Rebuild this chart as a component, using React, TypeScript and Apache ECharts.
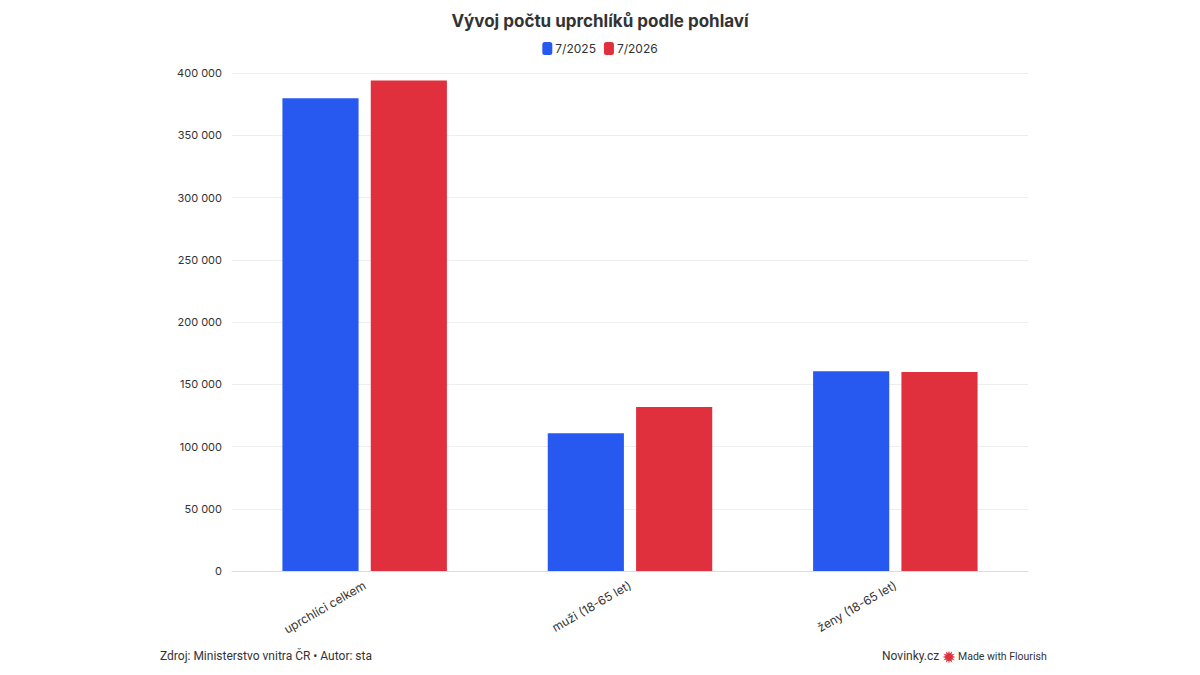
import React, { useEffect, useRef } from "react";
import * as echarts from "echarts";

const categories = ["uprchlíci celkem", "muži (18-65 let)", "ženy (18-65 let)"];
const seriesNames = ["7/2025", "7/2026"];
const values2025 = [379800, 110600, 160400];
const values2026 = [393900, 131800, 159900];
const colors = ["#2759F0", "#E0303D"];

const FONT = "Inter, 'Noto Sans', sans-serif";
const FOOT_FONT = "Roboto, 'Noto Sans', sans-serif";

function fmt(v: number): string {
  return String(v).replace(/\B(?=(\d{3})+(?!\d))/g, " ");
}

export default function App() {
  const ref = useRef<HTMLDivElement>(null);
  useEffect(() => {
    if (!ref.current) return;
    const chart = echarts.init(ref.current, null, { renderer: "svg" });
    const star: number[][] = [];
    for (let i = 0; i < 24; i++) {
      const a = (Math.PI * 2 * i) / 24;
      const r = i % 2 === 0 ? 6.5 : 3.5;
      star.push([Math.cos(a) * r, Math.sin(a) * r]);
    }
    chart.setOption({
      animation: false,
      backgroundColor: "#ffffff",
      textStyle: { fontFamily: FONT },
      title: {
        text: "Vývoj počtu uprchlíků podle pohlaví",
        left: "center",
        top: 7,
        textStyle: { fontSize: 17, fontWeight: "bold", color: "#333333", fontFamily: FONT },
      },
      legend: {
        top: 37,
        left: "center",
        itemWidth: 10,
        itemHeight: 13,
        itemGap: 8,
        icon: "roundRect",
        textStyle: { fontSize: 12, color: "#333333", fontFamily: FONT, padding: [0, 0, 0, -2] },
        data: seriesNames,
      },
      grid: { left: 232, right: 172, top: 73, bottom: 104, containLabel: false },
      xAxis: {
        type: "category",
        data: categories,
        axisTick: { show: false },
        axisLine: { lineStyle: { color: "#dddddd" } },
        axisLabel: {
          rotate: 30,
          color: "#333333",
          fontSize: 12,
          margin: 13,
          fontFamily: FONT,
        },
      },
      yAxis: {
        type: "value",
        min: 0,
        max: 400000,
        interval: 50000,
        axisLine: { show: false },
        axisTick: { show: false },
        splitLine: { lineStyle: { color: "#eeeeee" } },
        axisLabel: {
          color: "#333333",
          fontSize: 11,
          margin: 10,
          fontFamily: FONT,
          formatter: (v: number) => fmt(v),
        },
      },
      series: [
        {
          name: seriesNames[0],
          type: "bar",
          data: values2025,
          itemStyle: { color: colors[0] },
          barWidth: "28.7%",
          barGap: "16%",
        },
        {
          name: seriesNames[1],
          type: "bar",
          data: values2026,
          itemStyle: { color: colors[1] },
          barWidth: "28.7%",
          barGap: "16%",
        },
      ],
      graphic: [
        {
          type: "text",
          left: 160,
          top: 650,
          style: {
            text: "Zdroj: Ministerstvo vnitra ČR • Autor: sta",
            fontSize: 12,
            fill: "#333333",
            fontFamily: FOOT_FONT,
          },
        },
        {
          type: "text",
          left: 882,
          top: 650,
          style: {
            text: "Novinky.cz",
            fontSize: 12,
            fill: "#333333",
            fontFamily: FOOT_FONT,
          },
        },
        {
          type: "polygon",
          x: 949,
          y: 657,
          shape: { points: star },
          style: { fill: "#E0303D" },
        },
        {
          type: "text",
          left: 958,
          top: 651,
          style: {
            text: "Made with Flourish",
            fontSize: 10.5,
            fill: "#333333",
            fontFamily: FOOT_FONT,
          },
        },
      ],
    });
    return () => chart.dispose();
  }, []);
  return <div ref={ref} style={{ width: 1200, height: 675, margin: -8 }} />;
}
